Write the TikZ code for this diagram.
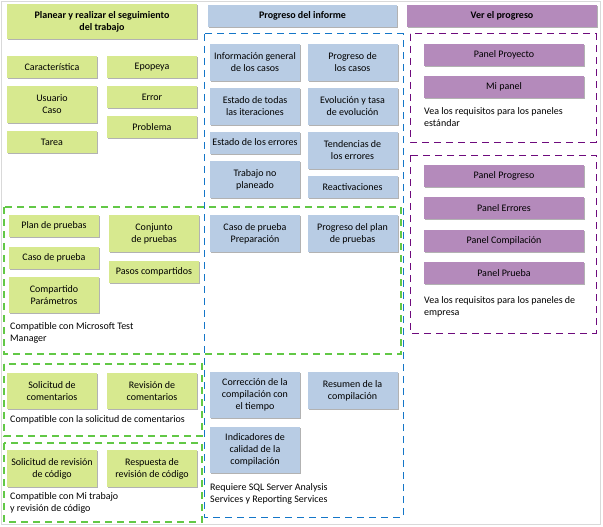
\documentclass[tikz,border=0pt]{standalone}
\usepackage{fontspec}
\setmainfont{Carlito}
\usepackage{tikz}
\usetikzlibrary{positioning,shadows}
\definecolor{gfill}{RGB}{215,233,143}
\definecolor{bfill}{RGB}{184,204,228}
\definecolor{pfill}{RGB}{180,138,187}
\definecolor{gline}{RGB}{98,200,70}
\definecolor{bline}{RGB}{20,118,200}
\definecolor{pline}{RGB}{110,10,125}
\tikzset{pad0/.style={inner sep=1pt, align=center, font=\fontsize{10}{12}\selectfont,
    drop shadow={shadow xshift=1.2pt, shadow yshift=-1.2pt, fill=black!30, opacity=1}}}
\tikzset{gpad/.style={pad0, fill=gfill, minimum width=90, minimum height=22}}
\tikzset{bpad/.style={pad0, fill=bfill, minimum width=90, minimum height=22}}
\tikzset{ppad/.style={pad0, fill=pfill, minimum width=160, minimum height=22}}
\tikzset{hpad/.style={font=\bfseries\fontsize{10}{12}\selectfont}}
\tikzset{note/.style={anchor=north west, inner sep=1pt, align=left, font=\fontsize{10}{12}\selectfont}}
\tikzset{gdash/.style={draw=gline, line width=1.1pt, dash pattern=on 7pt off 5pt}}
\tikzset{bdash/.style={draw=bline, line width=1pt, dash pattern=on 7pt off 5pt}}
\tikzset{pdash/.style={draw=pline, line width=1pt, dash pattern=on 7pt off 5pt}}
\begin{document}
\begin{tikzpicture}[x=1pt, y=-1pt]
  \useasboundingbox (0,0) rectangle (603,527);
  \draw[black!15, line width=1pt] (1.5,1.5) rectangle (600,524);
  % headers
  \node[gpad, hpad, minimum width=190, minimum height=35] (plan) at (102,21.5)
    {Planear y realizar el seguimiento\\del trabajo};
  \node[bpad, hpad, minimum width=189] (inf) at (302.5,16) {Progreso del informe};
  \node[ppad, hpad, minimum width=190] (ver) at (502,16) {Ver el progreso};
  % dashed groups
  \draw[bdash] (204,34) rectangle (403,517);
  \draw[gdash] (4,207) rectangle (401,354);
  \draw[gdash] (4,364) rectangle (202,436);
  \draw[gdash] (4,443) rectangle (202,522);
  \draw[pdash] (410,34) rectangle (596,142);
  \draw[pdash] (410,155) rectangle (596,333);
  % work items
  \node[gpad] (caract) at (52,67) {Característica};
  \node[gpad] (epopeya) at (152,67) {Epopeya};
  \node[gpad, minimum height=37] (usuario) at (52,104.5) {Usuario\\Caso};
  \node[gpad] (error) at (152,97) {Error};
  \node[gpad] (tarea) at (52,142) {Tarea};
  \node[gpad] (problema) at (152,127) {Problema};
  % reports
  \node[bpad, minimum height=37] (infogen) at (255,62.5) {Información general\\de los casos};
  \node[bpad, minimum height=37] (progcasos) at (352.5,62.5) {Progreso de\\los casos};
  \node[bpad, minimum height=37] (estiter) at (255,106.5) {Estado de todas\\las iteraciones};
  \node[bpad, minimum height=37] (evol) at (352.5,106.5) {Evolución y tasa\\de evolución};
  \node[bpad] (esterr) at (255,142.5) {Estado de los errores};
  \node[bpad, minimum height=37] (tend) at (352.5,150.5) {Tendencias de\\los errores};
  \node[bpad, minimum height=37] (trabajo) at (255,179.5) {Trabajo no\\planeado};
  \node[bpad] (reactiv) at (352.5,187) {Reactivaciones};
  % test
  \node[gpad] (planpr) at (54,226) {Plan de pruebas};
  \node[gpad, minimum height=37] (conj) at (154,233.5) {Conjunto\\de pruebas};
  \node[gpad] (casopr) at (54,257.5) {Caso de prueba};
  \node[gpad] (pasos) at (154,271.5) {Pasos compartidos};
  \node[gpad, minimum height=36] (compart) at (54,295) {Compartido\\Parámetros};
  \node[note] (mtm) at (9,321) {Compatible con Microsoft Test\\Manager};
  \node[bpad, minimum height=37] (casoprep) at (255,233.5) {Caso de prueba\\Preparación};
  \node[bpad, minimum height=37] (progplan) at (352.5,233.5) {Progreso del plan\\de pruebas};
  % feedback
  \node[gpad, minimum height=36] (solcom) at (52,391) {Solicitud de\\comentarios};
  \node[gpad, minimum height=36] (revcom) at (152,391) {Revisión de\\comentarios};
  \node[note] (notecom) at (9,414) {Compatible con la solicitud de comentarios};
  % code review
  \node[gpad, minimum height=37] (solrev) at (52,468.5) {Solicitud de revisión\\de código};
  \node[gpad, minimum height=37] (resprev) at (152,468.5) {Respuesta de\\revisión de código};
  \node[note] (notecod) at (9,491) {Compatible con Mi trabajo\\y revisión de código};
  % build
  \node[bpad, minimum height=46] (correc) at (255,395) {Corrección de la\\compilación con\\el tiempo};
  \node[bpad, minimum height=37] (resumen) at (352.5,390.5) {Resumen de la\\compilación};
  \node[bpad, minimum height=46] (indic) at (255,450) {Indicadores de\\calidad de la\\compilación};
  \node[note] (notesql) at (209,482) {Requiere SQL Server Analysis\\Services y Reporting Services};
  % dashboards
  \node[ppad] (pproy) at (504,55) {Panel Proyecto};
  \node[ppad] (mipanel) at (504,87) {Mi panel};
  \node[note] (noteest) at (423,106) {Vea los requisitos para los paneles\\estándar};
  \node[ppad] (pprog) at (504,176) {Panel Progreso};
  \node[ppad] (perr) at (504,208) {Panel Errores};
  \node[ppad] (pcomp) at (504,241) {Panel Compilación};
  \node[ppad] (pprue) at (504,273) {Panel Prueba};
  \node[note] (noteemp) at (423,295) {Vea los requisitos para los paneles de\\empresa};
\end{tikzpicture}
\end{document}
